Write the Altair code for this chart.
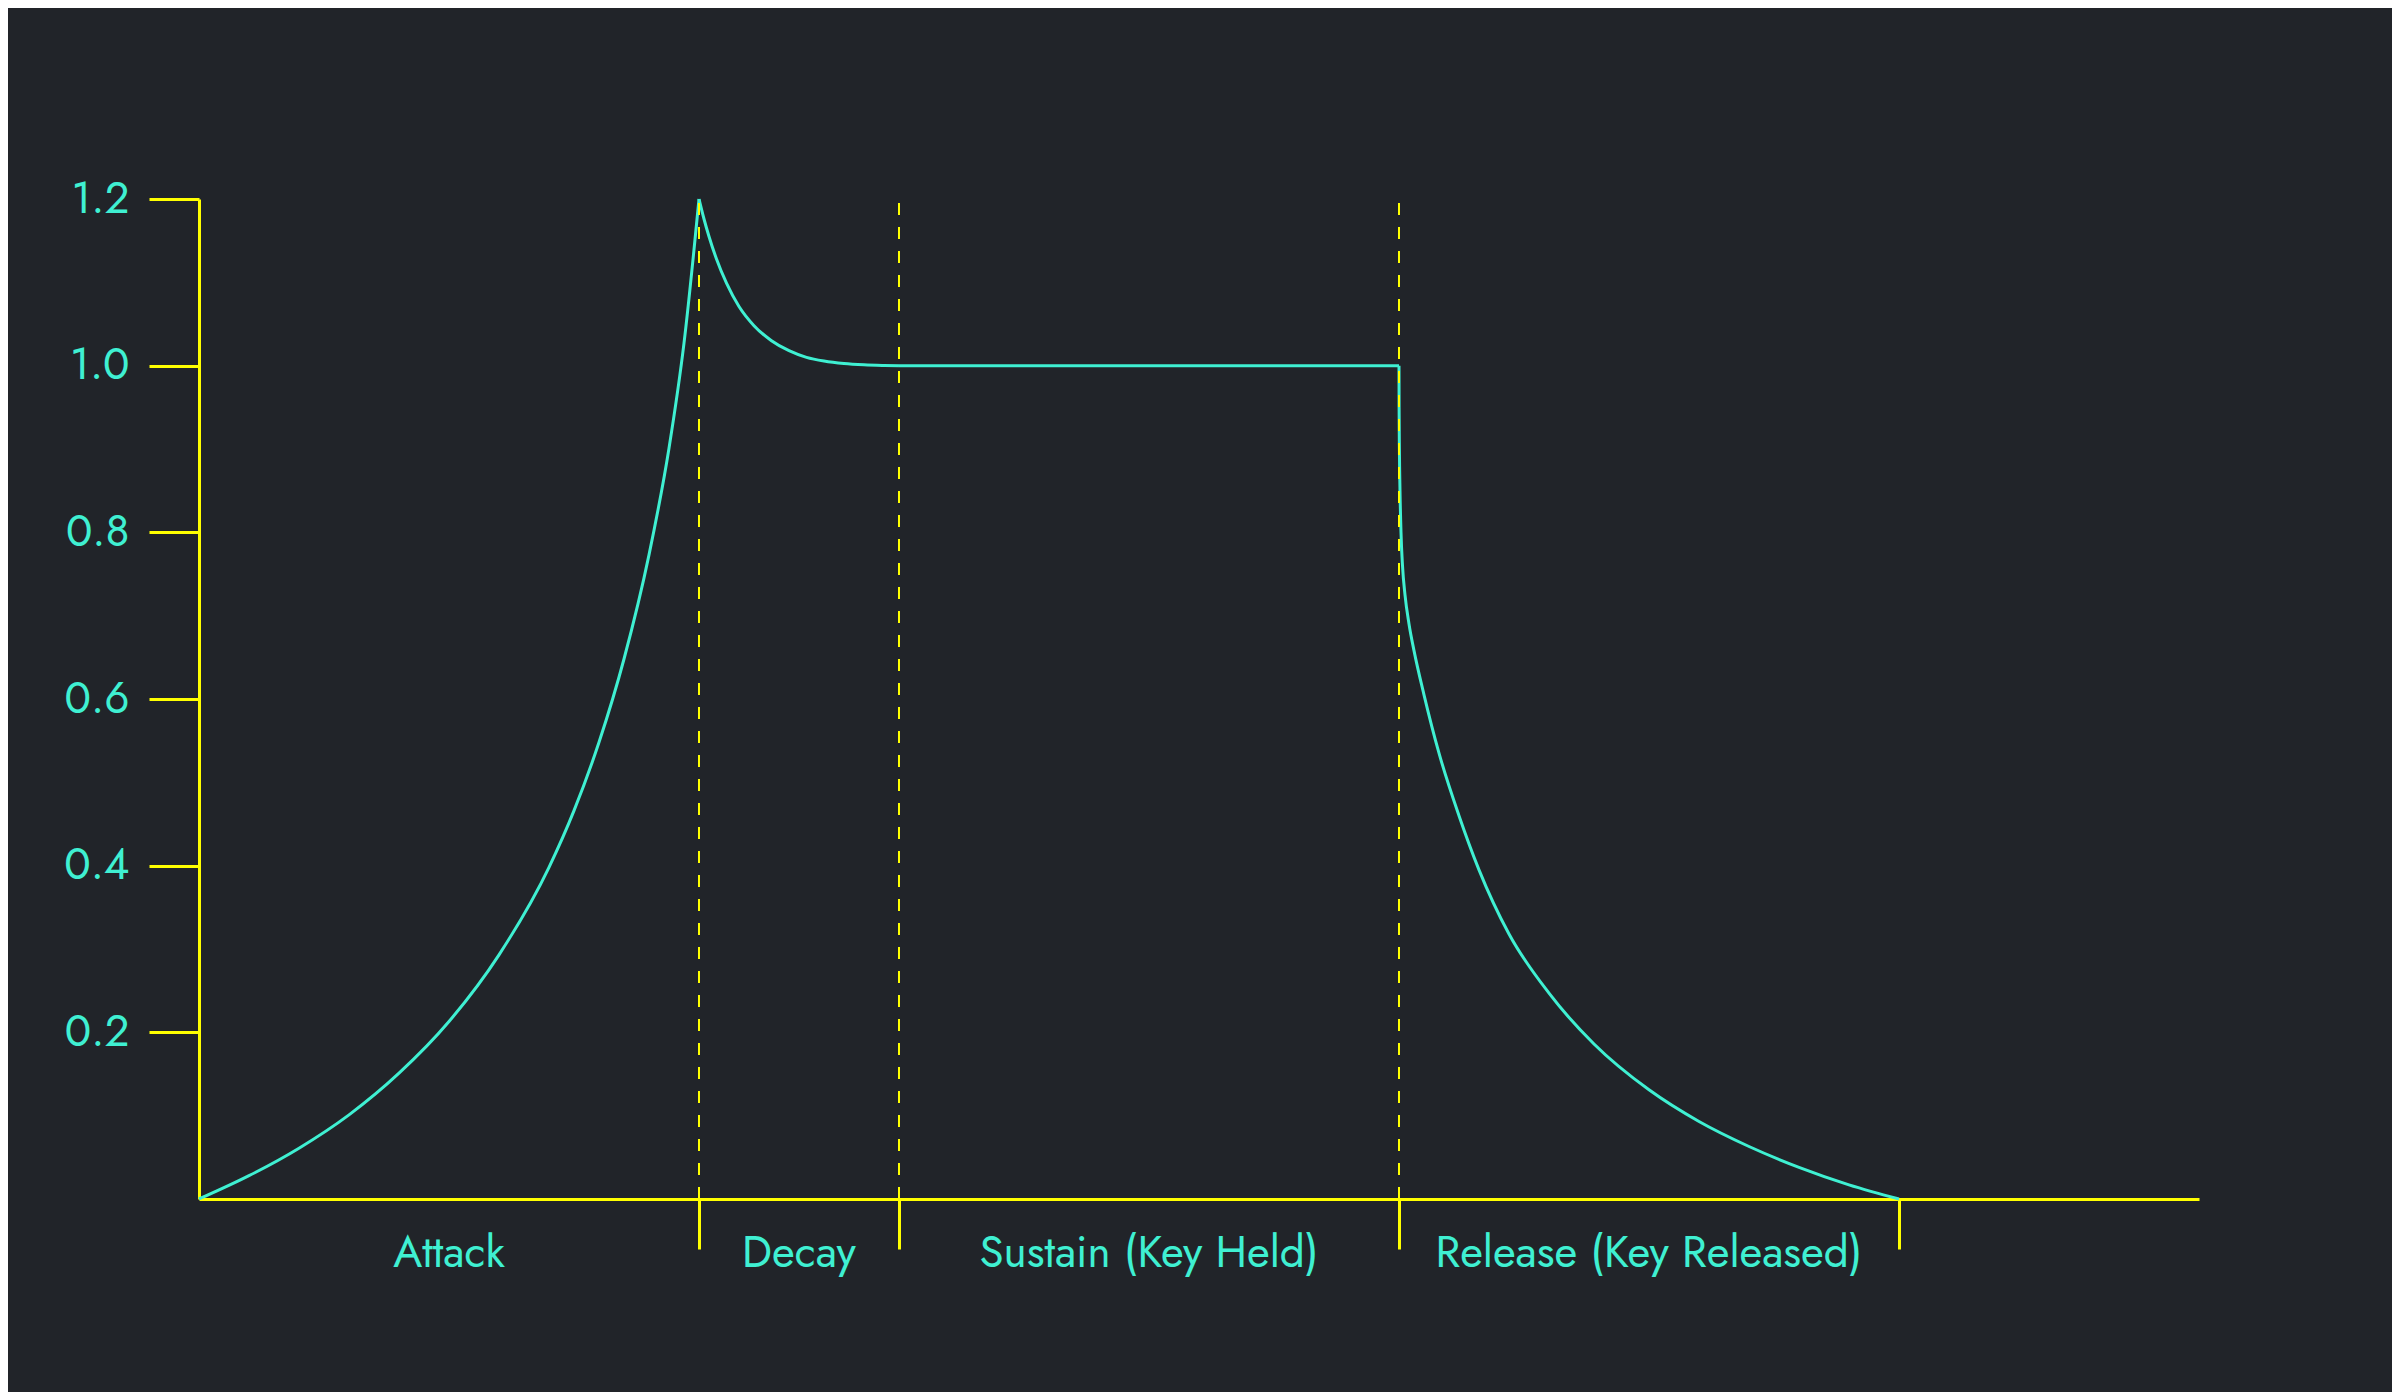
import altair as alt
import pandas as pd

# ---- data ----
attack_x = [0.0, 0.1, 0.2, 0.3, 0.4, 0.5, 0.6, 0.7, 0.75, 0.8, 0.85, 0.9, 0.94, 0.97, 1.0]
attack_y = [0.0, 0.028, 0.061, 0.101, 0.151, 0.213, 0.293, 0.398, 0.466, 0.548, 0.648, 0.773, 0.901, 1.027, 1.2]

decay_x = [1.0, 1.01, 1.02, 1.035, 1.055, 1.08, 1.11, 1.145, 1.18, 1.215, 1.25, 1.29, 1.33, 1.37, 1.4]
decay_y = [1.2, 1.176, 1.155, 1.128, 1.099, 1.071, 1.048, 1.030, 1.018, 1.010, 1.0055, 1.0025, 1.001, 1.0003, 1.0]

sustain_x = [1.4, 2.4]
sustain_y = [1.0, 1.0]

release_x = [2.4, 2.4002, 2.4008, 2.402, 2.404, 2.407, 2.412, 2.42, 2.43, 2.45, 2.48, 2.52, 2.56, 2.62, 2.7, 2.79, 2.9, 3.0, 3.1, 3.2, 3.3, 3.4]
release_y = [1.0, 0.95, 0.9, 0.85, 0.8, 0.76, 0.725, 0.69, 0.658, 0.605, 0.535, 0.46, 0.395, 0.318, 0.247, 0.186, 0.131, 0.093, 0.063, 0.038, 0.017, 0.0]

phase_bounds = [1.0, 1.4, 2.4, 3.4]
dashed_x = [1.0, 1.4, 2.4]
phase_labels = ["Attack", "Decay", "Sustain (Key Held)", "Release (Key Released)"]
label_x = [0.5, 1.2, 1.9, 2.9]
y_ticks = [0.2, 0.4, 0.6, 0.8, 1.0, 1.2]

BG = "#212429"
CYAN = "#3ff0d2"
YELLOW = "#ffff00"
FONT = "Futura, Jost, Lato"

rows = []
for name, px, py in [("attack", attack_x, attack_y), ("decay", decay_x, decay_y),
                     ("sustain", sustain_x, sustain_y), ("release", release_x, release_y)]:
    for k, (a, b) in enumerate(zip(px, py)):
        rows.append({"phase": name, "t": a, "level": b, "i": k})
env = pd.DataFrame(rows)
dash_df = pd.DataFrame({"t": dashed_x, "y0": [0.0] * len(dashed_x), "y1": [1.2] * len(dashed_x)})
lab_df = pd.DataFrame({"x": label_x, "y": [0.0] * len(label_x), "label": phase_labels})

xscale = alt.Scale(domain=[0, 4], nice=False, zero=False)
yscale = alt.Scale(domain=[0, 1.2], nice=False)

line = alt.Chart(env).mark_line(color=CYAN, strokeWidth=3, interpolate="monotone").encode(
    x=alt.X("t:Q", scale=xscale, axis=alt.Axis(
        values=phase_bounds, labels=False, tickSize=50, tickColor=YELLOW, tickWidth=3,
        domainColor=YELLOW, domainWidth=3, grid=False, title=None)),
    y=alt.Y("level:Q", scale=yscale, axis=alt.Axis(
        values=y_ticks, format=".1f", tickSize=50, tickColor=YELLOW, tickWidth=3,
        domainColor=YELLOW, domainWidth=3, grid=False, title=None,
        labelPadding=20, labelFontSize=44, labelColor=CYAN, labelFont=FONT)),
    detail="phase:N",
    order="i:Q",
)

dashes = alt.Chart(dash_df).mark_rule(color=YELLOW, strokeWidth=2, strokeDash=[12, 12]).encode(
    x=alt.X("t:Q", scale=xscale),
    y=alt.Y("y0:Q", scale=yscale),
    y2="y1:Q",
)

labels = alt.Chart(lab_df).mark_text(
    color=CYAN, fontSize=44, font=FONT, baseline="alphabetic", align="center", dy=68
).encode(
    x=alt.X("x:Q", scale=xscale),
    y=alt.Y("y:Q", scale=yscale),
    text="label:N",
)

chart = alt.layer(line, dashes, labels).properties(
    width=2000, height=1000,
    background=BG,
    padding={"left": 191, "top": 191, "right": 193, "bottom": 193},
    autosize=alt.AutoSizeParams(type="none"),
).configure_view(stroke=None)

chart.save("out.html", embed_options={"renderer": "svg", "actions": False})
